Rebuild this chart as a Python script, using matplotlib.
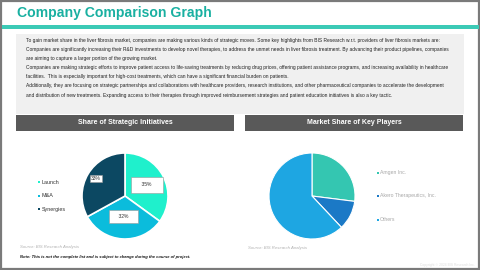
import numpy as np
import matplotlib.pyplot as plt
from matplotlib.patches import Rectangle

plt.rcParams['font.family'] = ['Liberation Sans', 'DejaVu Sans']

# data
init_labels = ['Launch', 'M&A', 'Synergies']
init_values = [35, 32, 33]
init_colors = ['#1ff0cc', '#0bbcdc', '#0c4862']

player_labels = ['Amgen Inc.', 'Akero Therapeutics, Inc.', 'Others']
player_values = [27, 11, 62]
player_colors = ['#34c6b1', '#1b79c6', '#1ea6e2']

intro_lines = [
    "To gain market share in the liver fibrosis market, companies are making various kinds of strategic moves. Some key highlights from BIS Research w.r.t. providers of liver fibrosis markets are:",
    "Companies are significantly increasing their R&D investments to develop novel therapies, to address the unmet needs in liver fibrosis treatment. By advancing their product pipelines, companies",
    "are aiming to capture a larger portion of the growing market.",
    "Companies are making strategic efforts to improve patient access to life-saving treatments by reducing drug prices, offering patient assistance programs, and increasing availability in healthcare",
    "facilities.  This is especially important for high-cost treatments, which can have a significant financial burden on patients.",
    "Additionally, they are focusing on strategic partnerships and collaborations with healthcare providers, research institutions, and other pharmaceutical companies to accelerate the development",
    "and distribution of new treatments. Expanding access to their therapies through improved reimbursement strategies and patient education initiatives is also a key tactic.",
]

W, H = 480, 270
fig = plt.figure(figsize=(4.8, 2.7), dpi=100)
bg = fig.add_axes([0, 0, 1, 1])
bg.set_xlim(0, W)
bg.set_ylim(H, 0)
bg.axis('off')

# frame, title, rule
bg.add_patch(Rectangle((0.8, 0.8), W - 1.6, H - 1.6, fill=False, ec='#7a7a7a', lw=1.6))
bg.text(17, 12.5, 'Company Comparison Graph', color='#19b0a1', fontsize=10.1,
        fontweight='bold', va='center', ha='left')
bg.add_patch(Rectangle((1.5, 25), W - 3, 4, fc='#3ccab6', ec='none'))

# text box
bg.add_patch(Rectangle((16, 34), 448, 80, fc='#f0f0f0', ec='none'))
for i, line in enumerate(intro_lines):
    bg.text(26, 40.7 + i * 9.05, line, fontsize=3.55, color='#222222', va='center', ha='left')

# header bars
for x0, x1, title in [(16, 234, 'Share of Strategic Initiatives'),
                      (245, 463, 'Market Share of Key Players')]:
    bg.add_patch(Rectangle((x0, 114.5), x1 - x0, 16, fc='#595959', ec='none'))
    bg.text((x0 + x1) / 2, 122.5, title, color='white', fontsize=5, fontweight='bold',
            ha='center', va='center')


def pie_axes(cx, cy, r):
    return fig.add_axes([(cx - r) / W, 1 - (cy + r) / H, 2 * r / W, 2 * r / H])


# left pie
ax1 = pie_axes(125, 196, 43)
wedges, _ = ax1.pie(init_values, colors=init_colors, startangle=90, counterclock=False,
                    wedgeprops=dict(edgecolor='white', linewidth=1.2))
ax1.set_xlim(-1, 1)
ax1.set_ylim(-1, 1)
label_r = [0.57, 0.47, 0.79]
label_pad = [('    ', 1.1), ('    ', 0.8), ('', 0.25)]
for w, v, rr, (sp, pad) in zip(wedges, init_values, label_r, label_pad):
    th = np.deg2rad((w.theta1 + w.theta2) / 2)
    ax1.text(rr * np.cos(th), rr * np.sin(th), sp + f'{v}%' + sp, fontsize=3.6,
             color='#333333', ha='center', va='center',
             bbox=dict(boxstyle=f'square,pad={pad}', fc='white', ec='#9a9a9a', lw=0.4))

for i, (lab, c) in enumerate(zip(init_labels, init_colors)):
    y = 182 + i * 13.5
    bg.add_patch(Rectangle((38, y - 1), 2, 2, fc=c, ec='none'))
    bg.text(42, y, lab, fontsize=3.9, color='#333333', va='center', ha='left')

# right pie
ax2 = pie_axes(312, 196, 43)
ax2.pie(player_values, colors=player_colors, startangle=90, counterclock=False,
        wedgeprops=dict(edgecolor='white', linewidth=0.8))
ax2.set_xlim(-1, 1)
ax2.set_ylim(-1, 1)

for i, (lab, c) in enumerate(zip(player_labels, player_colors)):
    y = 172.5 + i * 23.5
    bg.add_patch(Rectangle((376.5, y - 1), 2, 2, fc=c, ec='none'))
    bg.text(380, y, lab, fontsize=3.7, color='#a8a8a8', va='center', ha='left')

# footnotes
bg.text(20, 247, 'Source: BIS Research Analysis', fontsize=3.1, color='#b0b0b0',
        style='italic', va='center')
bg.text(20, 257, 'Note: This is not the complete list and is subject to change during the course of project.',
        fontsize=2.95, color='#111111', style='italic', fontweight='bold', va='center')
bg.text(248, 248, 'Source: BIS Research Analysis', fontsize=3.1, color='#b0b0b0',
        style='italic', va='center')
bg.text(475, 265, 'Copyright \u00a9 2024 BIS Research Inc.', fontsize=2.4, color='#dddddd',
        ha='right', va='center')

fig.savefig('out.png', dpi=100)
